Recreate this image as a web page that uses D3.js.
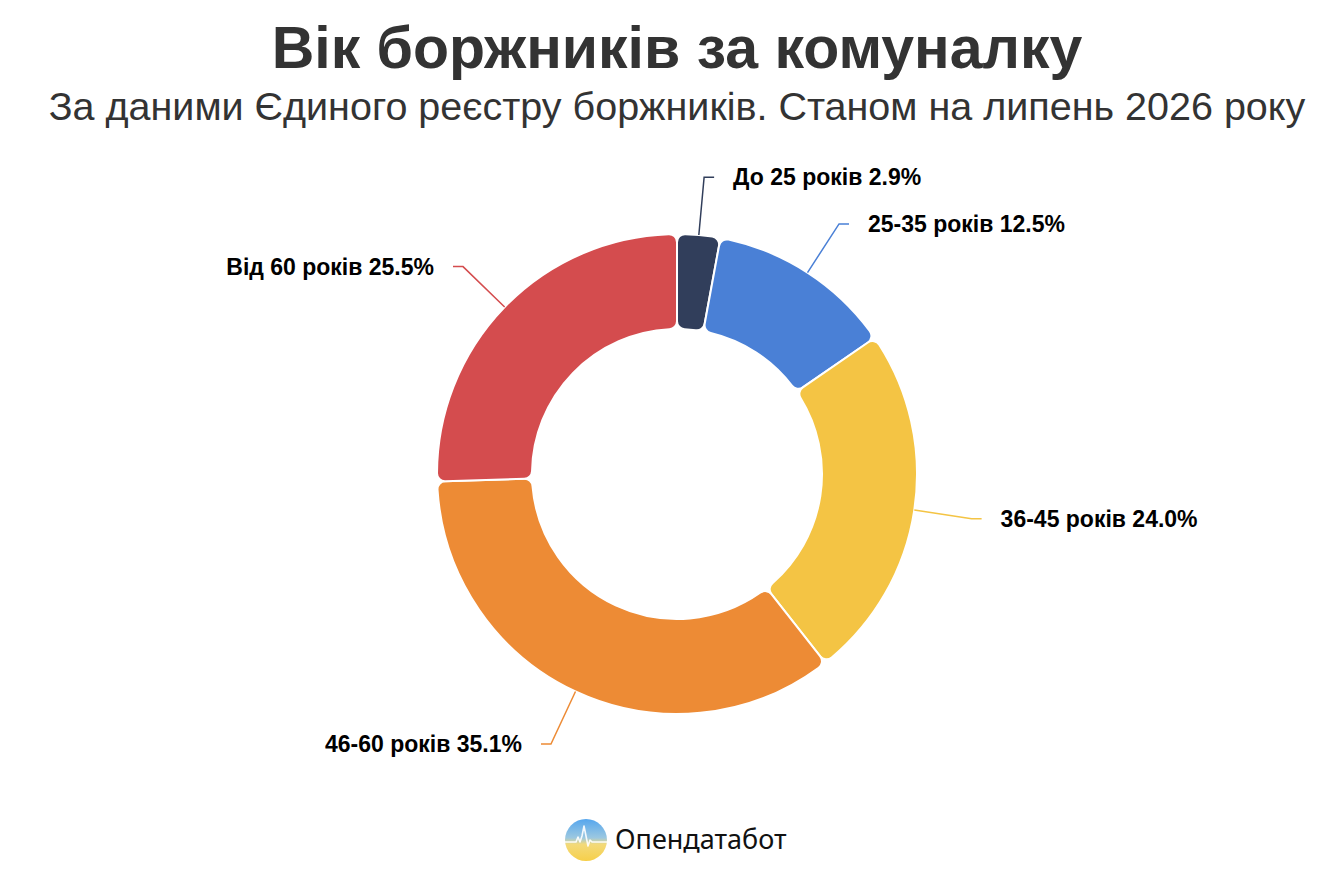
<!DOCTYPE html>
<html>
<head>
<meta charset="utf-8">
<script src="https://cdn.jsdelivr.net/npm/d3@7"></script>
<style>
	body{margin:0;background:#fff;}
	svg text{font-family:"Liberation Sans",Arial,Helvetica,sans-serif;}
</style>
</head>
<body>
<svg id="chart" width="1338" height="896"></svg>
<script>
(function(){

	var titleText = "Вік боржників за комуналку";
	var subtitleText = "За даними Єдиного реєстру боржників. Станом на липень 2026 року";
	var brandText = "Опендатабот";

	var categories = ["До 25 років", "25-35 років", "36-45 років", "46-60 років", "Від 60 років"];
	var shares = [2.9, 12.5, 24.0, 35.1, 25.5];
	var colors = ["#313e5b", "#4a80d6", "#f4c444", "#ed8b35", "#d44c4e"];

	var W = 1338, H = 896;
	var CX = 677, CY = 474;
	var R_OUT = 240, R_IN = 145;
	var LEN1 = 58, LEN2 = 10, GAP = 19;

	var svg = d3.select("#chart");

	// titles
	svg.append("text").attr("x", 677).attr("y", 68)
		.attr("text-anchor","middle")
		.style("font-size","59px").style("font-weight","bold").style("fill","#333")
		.text(titleText);
	svg.append("text").attr("x", 677).attr("y", 120)
		.attr("text-anchor","middle")
		.style("font-size","39.5px").style("fill","#333")
		.text(subtitleText);

	var dat = categories.map(function(c,i){ return {name:c, value:shares[i], color:colors[i]}; });

	var pie = d3.pie().sort(null).value(function(d){return d.value});
	var arc = d3.arc().innerRadius(R_IN).outerRadius(R_OUT).cornerRadius(8);

	var g = svg.append("g").attr("transform","translate("+CX+","+CY+")");
	var arcs = pie(dat);

	g.selectAll("path.slice").data(arcs).enter().append("path")
		.attr("class","slice")
		.attr("d", arc)
		.attr("fill", function(d){return d.data.color})
		.attr("stroke","#fff").attr("stroke-width",2);

	// label lines + labels
	var lab = g.selectAll("g.lab").data(arcs).enter().append("g").attr("class","lab");
	lab.each(function(d){
		var a = (d.startAngle + d.endAngle)/2;
		var s = Math.sin(a), c = -Math.cos(a);
		var x0 = s*R_OUT, y0 = c*R_OUT;
		var x1 = s*(R_OUT+LEN1), y1 = c*(R_OUT+LEN1);
		var dir = s >= 0 ? 1 : -1;
		var x2 = x1 + dir*LEN2;
		var sel = d3.select(this);
		sel.append("path")
			.attr("d", d3.line()([[x0,y0],[x1,y1],[x2,y1]]))
			.attr("fill","none").attr("stroke", d.data.color).attr("stroke-width",1.5);
		sel.append("text")
			.attr("x", x2 + dir*GAP).attr("y", y1)
			.attr("dy","0.35em")
			.attr("text-anchor", dir > 0 ? "start" : "end")
			.style("font-size","23px").style("font-weight","bold").style("fill","#000")
			.text(d.data.name + " " + d3.format(".1f")(d.data.value) + "%");
	});

	// brand logo
	var defs = svg.append("defs");
	var grad = defs.append("linearGradient").attr("id","logoGrad")
		.attr("x1","0").attr("y1","0").attr("x2","0").attr("y2","1");
	grad.append("stop").attr("offset","0%").attr("stop-color","#55a6ee");
	grad.append("stop").attr("offset","45%").attr("stop-color","#9cc8e0");
	grad.append("stop").attr("offset","60%").attr("stop-color","#f3da7a");
	grad.append("stop").attr("offset","100%").attr("stop-color","#f6cf4a");

	var logo = svg.append("g").attr("transform","translate(586,840)");
	logo.append("circle").attr("r",21).attr("fill","url(#logoGrad)");
	logo.append("path")
		.attr("d","M-21,2 L-10,2 L-8,-3 L-6,2 L-4,-4 L-2,-14 L0,-4 L2,6 L4,0 L6,2 L21,2")
		.attr("fill","none").attr("stroke","#fff").attr("stroke-width",1.6).attr("stroke-linejoin","round")
		.attr("opacity",0.9);
	svg.append("text").attr("x",615).attr("y",840).attr("dy","0.35em")
		.style("font-family","'Noto Sans','Open Sans',sans-serif")
		.style("font-size","27px").style("fill","#111")
		.text(brandText);

})();
</script>
</body>
</html>
